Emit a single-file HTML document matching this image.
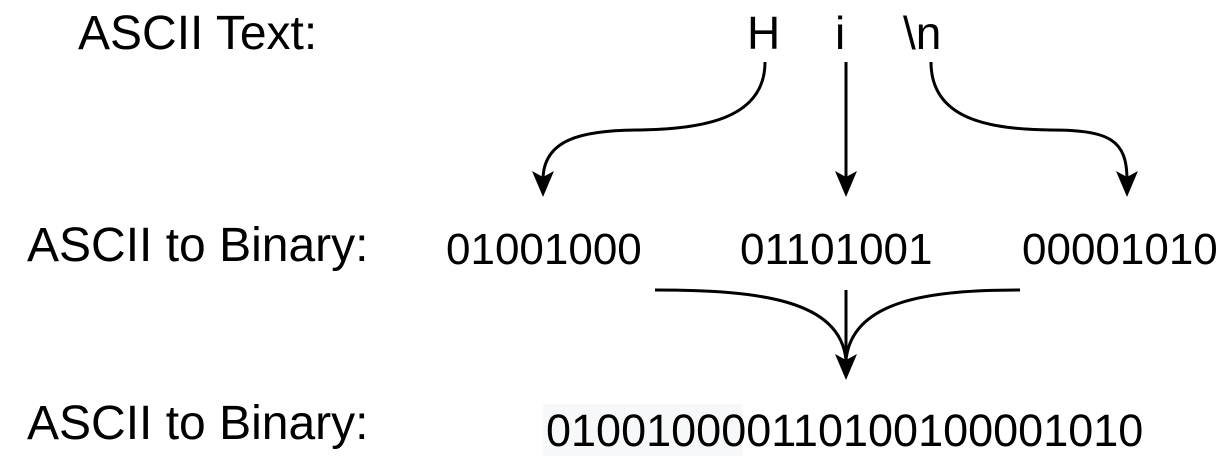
<!DOCTYPE html>
<html><head><style>
body{margin:0;width:1232px;height:473px;background:#fff;overflow:hidden;position:relative;font-family:"Liberation Sans",sans-serif;}
.t{position:absolute;font-size:48px;color:#000;line-height:1;white-space:nowrap;}
.n{font-size:44px;}
</style></head><body>
<div style="position:absolute;left:543px;top:404px;width:200px;height:52px;background:#f7f8f9"></div>
<div class="t" style="left:78px;top:10px">ASCII Text:</div>
<div class="t" style="left:747px;top:10px;font-size:46px">H</div>
<div class="t" style="left:835px;top:10px;font-size:46px">i</div>
<div class="t" style="left:903px;top:10px;font-size:46px">\n</div>
<div class="t" style="left:27px;top:222px">ASCII to Binary:</div>
<div class="t n" style="left:446px;top:228px">01001000</div>
<div class="t n" style="left:740px;top:228px">01101001</div>
<div class="t n" style="left:1022px;top:228px">00001010</div>
<div class="t" style="left:27px;top:400px">ASCII to Binary:</div>
<div class="t" style="left:546px;top:408px;font-size:45px">010010000110100100001010</div>
<svg width="1232" height="473" style="position:absolute;left:0;top:0">
<g fill="none" stroke="#000" stroke-width="3">
<path d="M765 62 C765 120 700 129 640 130 C580 130 543 140 543 180"/>
<path d="M846 62 L846 180"/>
<path d="M931 62 C931 120 990 129 1050 130 C1110 130 1127 140 1127 180"/>
<path d="M655 290 C760 290 840 300 846 360"/>
<path d="M1020 290 C930 290 852 300 846 360"/>
<path d="M846 290 L846 360"/>
</g>
<g fill="#000">
<polygon points="532,171 543,197 554,171 543,177"/>
<polygon points="835,171 846,197 857,171 846,177"/>
<polygon points="1116,171 1127,197 1138,171 1127,177"/>
<polygon points="835,354 846,380 857,354 846,360"/>
</g>
</svg>
</body></html>
